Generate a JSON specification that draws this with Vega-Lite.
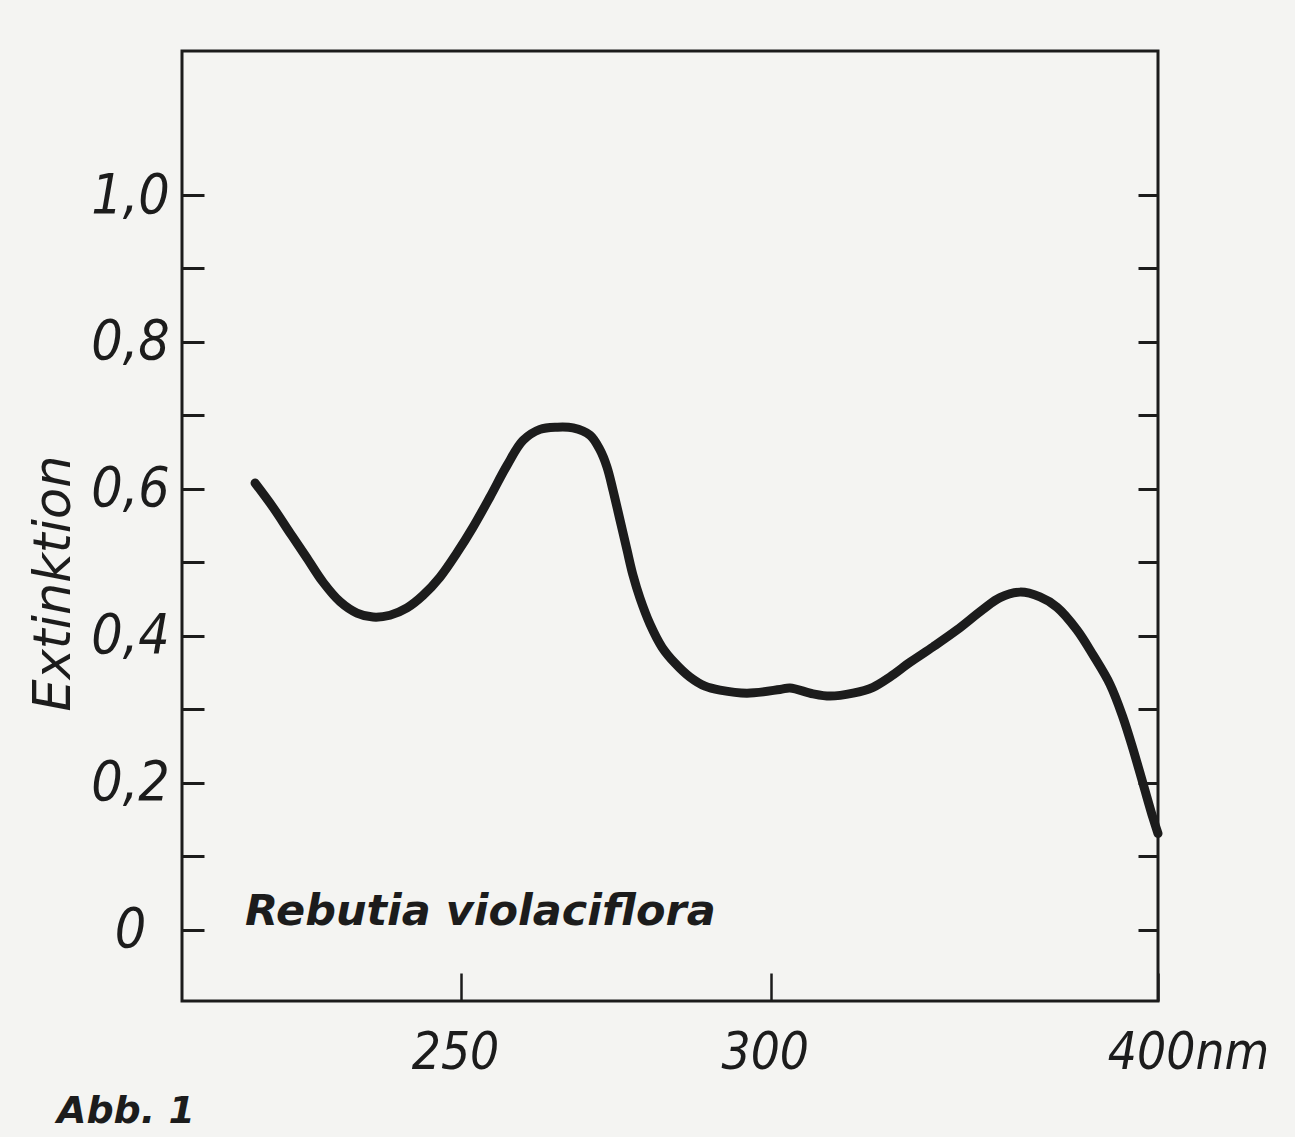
{
  "$schema": "https://vega.github.io/schema/vega-lite/v6.json",
  "width": 976,
  "height": 950,
  "autosize": {"type": "none"},
  "padding": {"left": 182, "top": 51, "right": 137, "bottom": 136},
  "background": "#f4f4f2",
  "config": {
    "view": {"stroke": "#1c1c1c", "strokeWidth": 3},
    "axis": {"grid": false, "domain": false}
  },
  "datasets": {
    "curve": [
      {"nm": 225.06, "ext": 0.608},
      {"nm": 227.03, "ext": 0.575},
      {"nm": 228.94, "ext": 0.540},
      {"nm": 230.87, "ext": 0.5058},
      {"nm": 232.72, "ext": 0.4731},
      {"nm": 234.72, "ext": 0.4465},
      {"nm": 236.75, "ext": 0.431},
      {"nm": 238.70, "ext": 0.4255},
      {"nm": 240.80, "ext": 0.428},
      {"nm": 242.94, "ext": 0.438},
      {"nm": 244.99, "ext": 0.455},
      {"nm": 247.21, "ext": 0.480},
      {"nm": 249.46, "ext": 0.513},
      {"nm": 251.63, "ext": 0.548},
      {"nm": 253.96, "ext": 0.589},
      {"nm": 256.35, "ext": 0.632},
      {"nm": 258.63, "ext": 0.666},
      {"nm": 261.10, "ext": 0.681},
      {"nm": 263.62, "ext": 0.684},
      {"nm": 266.03, "ext": 0.683},
      {"nm": 268.65, "ext": 0.673},
      {"nm": 270.21, "ext": 0.653},
      {"nm": 271.31, "ext": 0.6297},
      {"nm": 272.26, "ext": 0.5984},
      {"nm": 273.39, "ext": 0.5575},
      {"nm": 274.52, "ext": 0.5167},
      {"nm": 275.49, "ext": 0.4826},
      {"nm": 276.64, "ext": 0.4513},
      {"nm": 278.30, "ext": 0.4159},
      {"nm": 280.31, "ext": 0.3846},
      {"nm": 282.53, "ext": 0.3628},
      {"nm": 285.13, "ext": 0.3438},
      {"nm": 287.78, "ext": 0.3315},
      {"nm": 290.48, "ext": 0.3261},
      {"nm": 295.46, "ext": 0.322},
      {"nm": 301.80, "ext": 0.327},
      {"nm": 303.77, "ext": 0.329},
      {"nm": 308.41, "ext": 0.321},
      {"nm": 311.93, "ext": 0.318},
      {"nm": 316.82, "ext": 0.322},
      {"nm": 321.20, "ext": 0.330},
      {"nm": 325.02, "ext": 0.344},
      {"nm": 329.63, "ext": 0.364},
      {"nm": 335.10, "ext": 0.385},
      {"nm": 341.00, "ext": 0.408},
      {"nm": 347.63, "ext": 0.436},
      {"nm": 352.11, "ext": 0.452},
      {"nm": 357.53, "ext": 0.4595},
      {"nm": 363.12, "ext": 0.453},
      {"nm": 368.00, "ext": 0.439},
      {"nm": 373.93, "ext": 0.408},
      {"nm": 378.81, "ext": 0.374},
      {"nm": 384.13, "ext": 0.334},
      {"nm": 388.30, "ext": 0.289},
      {"nm": 391.57, "ext": 0.246},
      {"nm": 394.90, "ext": 0.199},
      {"nm": 398.29, "ext": 0.152},
      {"nm": 400.00, "ext": 0.131}
    ],
    "species": [{"nm": 223.97, "ext": 0.006, "label": "Rebutia violaciflora"}],
    "figure": [{"nm": 205.36, "ext": -0.263, "label": "Abb. 1"}]
  },
  "resolve": {"axis": {"x": "independent", "y": "independent"}},
  "layer": [
    {
      "data": {"name": "curve"},
      "mark": {"type": "line", "interpolate": "catmull-rom", "strokeWidth": 9, "color": "#1c1c1c", "strokeCap": "round", "strokeJoin": "round"},
      "encoding": {
        "x": {
          "field": "nm", "type": "quantitative",
          "scale": {"type": "pow", "exponent": -1, "domain": [217.37, 400], "zero": false, "nice": false},
          "axis": {
            "orient": "bottom", "title": null, "values": [250, 300, 400],
            "tickSize": -28, "tickWidth": 2.5, "tickColor": "#1c1c1c",
            "labelFont": "Liberation Sans Narrow, DejaVu Sans Condensed, Liberation Sans",
            "labelFontSize": 51, "labelFontStyle": "italic", "labelColor": "#1c1c1c",
            "labelPadding": 80, "labelBaseline": "middle", "labelAlign": "center",
            "labelFlush": false, "labelOverlap": false, "labelBound": false,
            "labelExpr": "datum.value == 400 ? '400nm' : datum.label",
            "labelOffset": {"condition": {"test": "datum.value == 400", "value": 30}, "value": -6}
          }
        },
        "y": {
          "field": "ext", "type": "quantitative",
          "scale": {"domain": [-0.097, 1.196], "zero": false, "nice": false},
          "axis": {
            "orient": "left",
            "values": [0, 0.1, 0.2, 0.3, 0.4, 0.5, 0.6, 0.7, 0.8, 0.9, 1.0],
            "tickSize": -22, "tickWidth": 3, "tickColor": "#1c1c1c",
            "labelFont": "Liberation Sans Narrow, DejaVu Sans Condensed, Liberation Sans",
            "labelFontSize": 55, "labelFontStyle": "italic", "labelColor": "#1c1c1c",
            "labelAlign": "center", "labelBaseline": "middle", "labelPadding": 74,
            "labelOverlap": false, "labelBound": false, "labelFlush": false,
            "labelExpr": "datum.value == 0 ? '0' : (round(datum.value * 10) % 2 == 0 ? replace(format(datum.value, '.1f'), '.', ',') : '')",
            "title": "Extinktion",
            "titleFont": "DejaVu Sans", "titleFontStyle": "italic", "titleFontWeight": "normal",
            "titleFontSize": 51, "titleColor": "#1c1c1c",
            "titleAngle": -90, "titleAlign": "center", "titleBaseline": "middle",
            "titleX": -128, "titleY": 532
          }
        }
      }
    },
    {
      "data": {"name": "species"},
      "mark": {"type": "text", "align": "left", "baseline": "alphabetic", "font": "DejaVu Sans", "fontStyle": "italic", "fontWeight": "bold", "fontSize": 43, "color": "#1c1c1c"},
      "encoding": {
        "x": {"field": "nm", "type": "quantitative", "axis": null},
        "y": {
          "field": "ext", "type": "quantitative",
          "axis": {
            "orient": "right",
            "values": [0, 0.1, 0.2, 0.3, 0.4, 0.5, 0.6, 0.7, 0.8, 0.9, 1.0],
            "labels": false, "title": null,
            "tickSize": -20, "tickWidth": 3, "tickColor": "#1c1c1c"
          }
        },
        "text": {"field": "label", "type": "nominal"}
      }
    },
    {
      "data": {"name": "figure"},
      "mark": {"type": "text", "align": "left", "baseline": "alphabetic", "font": "DejaVu Sans", "fontStyle": "italic", "fontWeight": "bold", "fontSize": 38, "color": "#1c1c1c"},
      "encoding": {
        "x": {"field": "nm", "type": "quantitative", "axis": null},
        "y": {"field": "ext", "type": "quantitative", "axis": null},
        "text": {"field": "label", "type": "nominal"}
      }
    }
  ]
}
